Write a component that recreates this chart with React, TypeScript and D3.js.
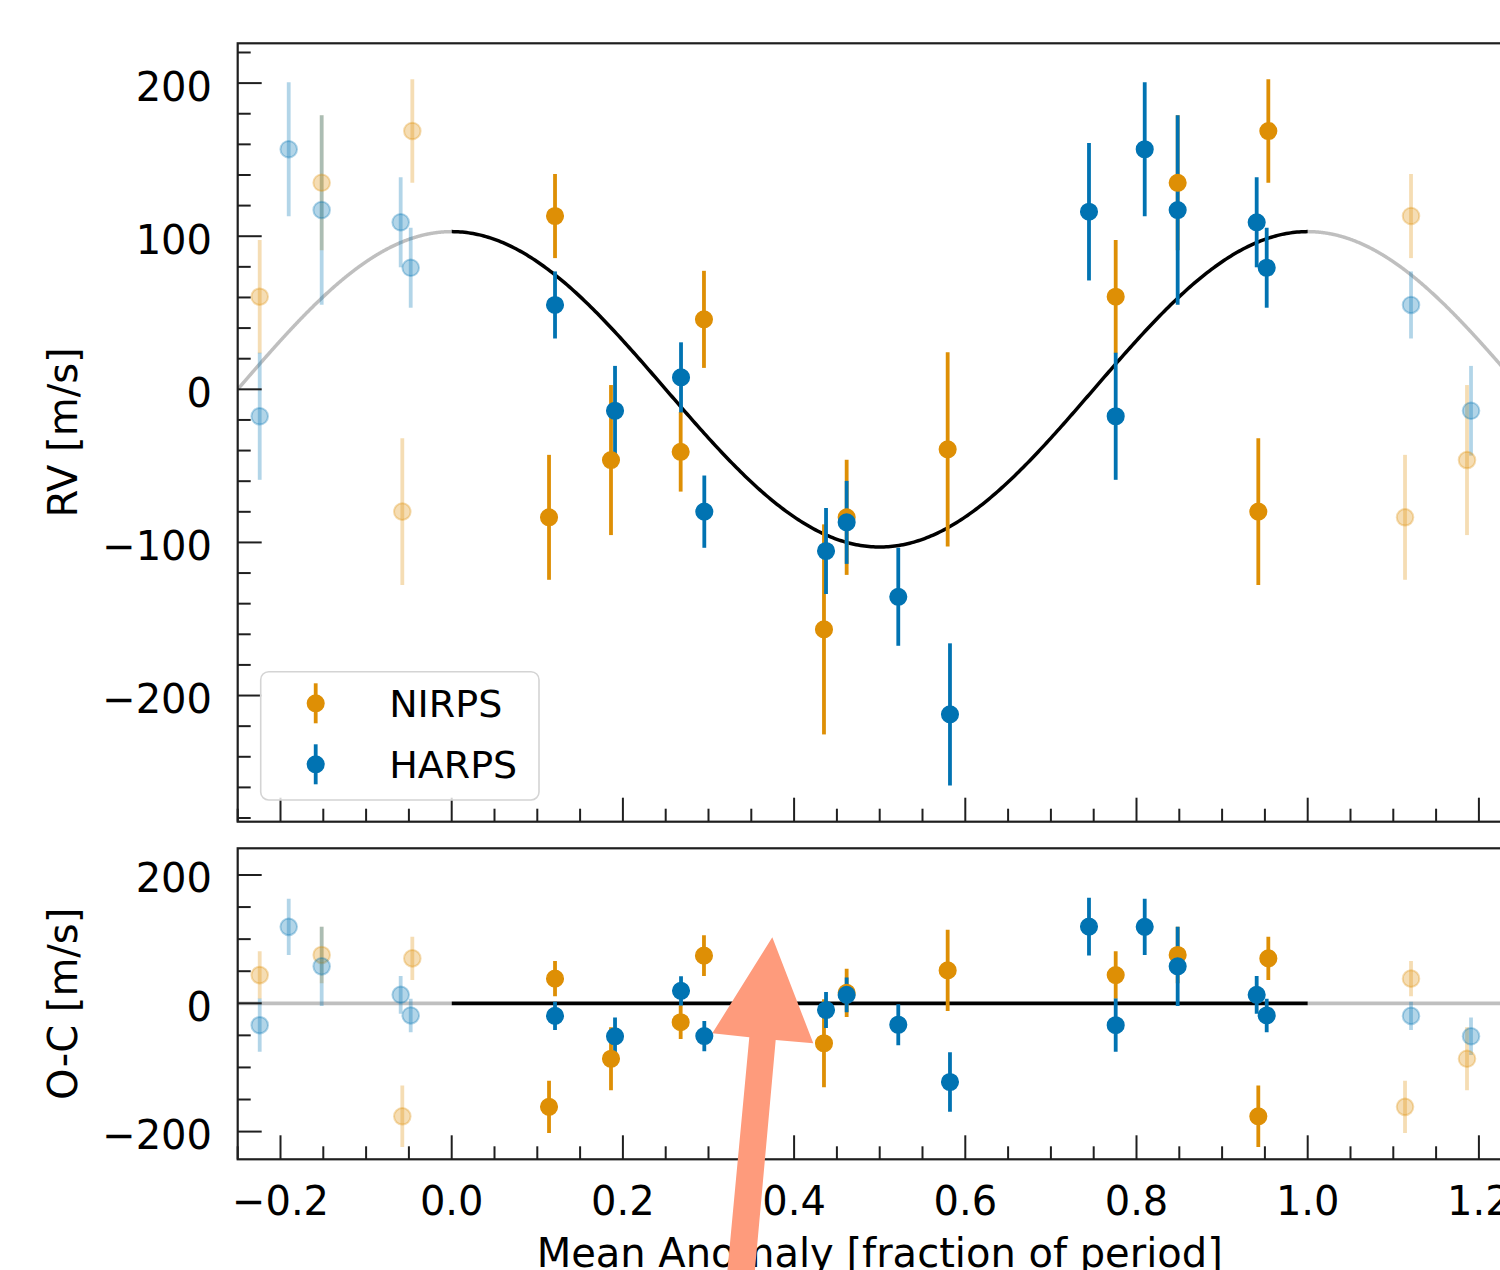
import React from 'react';
import * as d3 from 'd3';

// ---- Data ----
// NIRPS
const PHASE_NIRPS = [0.1207, 0.1137, 0.1861, 0.2675, 0.2947, 0.4349, 0.4614, 0.5794, 0.7757, 0.8481, 0.9540, 0.9423];
const RV_NIRPS = [113.2, -83.6, -46.2, -40.8, 45.7, -156.8, -83.6, -39.2, 60.5, 134.9, 168.7, -79.9];
const ERR_NIRPS = [27.5, 40.8, 49.0, 26.0, 31.7, 68.6, 37.6, 63.4, 37.0, 44.1, 33.8, 47.9];
// HARPS
const PHASE_HARPS = [0.1207, 0.1908, 0.2679, 0.2951, 0.4373, 0.4614, 0.5217, 0.5821, 0.7445, 0.8096, 0.8481, 0.7757, 0.9404, 0.9521];
const RV_HARPS = [55.1, -14.0, 7.8, -79.9, -105.6, -86.9, -135.5, -212.3, 116.0, 156.8, 117.1, -17.6, 109.1, 79.4];
const ERR_HARPS = [21.9, 29.3, 22.9, 23.6, 28.1, 27.1, 32.0, 46.4, 44.9, 43.8, 61.9, 41.5, 29.4, 26.1];

// Keplerian (circular) model semi-amplitude in m/s
const MODEL_K = 103;

const SERIES_NAMES = ['NIRPS', 'HARPS'];

const X_TICKS = [-0.2, 0.0, 0.2, 0.4, 0.6, 0.8, 1.0, 1.2];
const X_TICK_LABELS = ['−0.2', '0.0', '0.2', '0.4', '0.6', '0.8', '1.0', '1.2'];
const RV_TICKS = [200, 100, 0, -100, -200];
const RV_TICK_LABELS = ['200', '100', '0', '−100', '−200'];
const OC_TICKS = [200, 0, -200];
const OC_TICK_LABELS = ['200', '0', '−200'];

// ---- Styles / layout ----
const COLORS = ['#DE8F05', '#0173B2'];
const FONT = '"DejaVu Sans", "Liberation Sans", sans-serif';
const AX = '#1f1f1f';
const LEFT = 237.7;
const RIGHT = 1521.7;
const TOP_Y0 = 43.3, TOP_Y1 = 821.7;
const BOT_Y0 = 848.3, BOT_Y1 = 1159.3;
const MAJ = 24, MIN = 13;
const ARROW = [
  [772.3, 937.3], [813.3, 1043.3], [775.7, 1040], [754.5, 1275],
  [727.0, 1275], [749.3, 1037.3], [712.3, 1033.3],
];

type Pt = { phase: number; v: number; err: number };

function model(p: number) {
  return MODEL_K * Math.cos(2 * Math.PI * p);
}

function build(phases: number[], rvs: number[], errs: number[]) {
  const main: Pt[] = phases.map((p, i) => ({ phase: p, v: rvs[i], err: errs[i] }));
  const faded: Pt[] = [];
  main.forEach((d) => {
    if (d.phase >= 0.75) faded.push({ ...d, phase: d.phase - 1 });
    if (d.phase < 0.25) faded.push({ ...d, phase: d.phase + 1 });
  });
  return { main, faded };
}

export default function App() {
  const x = d3.scaleLinear().domain([-0.25, 1.25]).range([LEFT, RIGHT]);
  const yT = d3.scaleLinear().domain([-282.4, 226]).range([TOP_Y1, TOP_Y0]);
  const yB = d3.scaleLinear().domain([-243.2, 241.6]).range([BOT_Y1, BOT_Y0]);

  const series = [
    build(PHASE_NIRPS, RV_NIRPS, ERR_NIRPS),
    build(PHASE_HARPS, RV_HARPS, ERR_HARPS),
  ];

  const curveLine = d3.line<number>().x((p) => x(p)).y((p) => yT(model(p)));
  const samples = (a: number, b: number) => d3.range(0, 401).map((i) => a + ((b - a) * i) / 400);

  const xMinor = d3.range(-25, 126, 5).map((v) => v / 100).filter((v) => Math.abs(Math.round(v * 5) - v * 5) > 1e-6);
  const rvMinor = d3.range(-280, 221, 20).filter((v) => v % 100 !== 0);
  const ocMinor = d3.range(-200, 241, 50).filter((v) => v % 200 !== 0);

  const renderPoints = (panel: 'top' | 'bot', faded: boolean) => {
    const yS = panel === 'top' ? yT : yB;
    const val = (d: Pt) => (panel === 'top' ? d.v : d.v - model(d.phase));
    const op = faded ? 0.3 : 1;
    const bars = series.map((s, si) => (
      <g key={'b' + si} stroke={COLORS[si]} strokeOpacity={op} strokeWidth={3.8}>
        {(faded ? s.faded : s.main).map((d, i) => (
          <line key={i} x1={x(d.phase)} x2={x(d.phase)} y1={yS(val(d) + d.err)} y2={yS(val(d) - d.err)} />
        ))}
      </g>
    ));
    const marks = series.map((s, si) => (
      <g key={'m' + si} fill={COLORS[si]} fillOpacity={op} stroke={COLORS[si]} strokeOpacity={op} strokeWidth={faded ? 2 : 1.5}>
        {(faded ? s.faded : s.main).map((d, i) => (
          <circle key={i} cx={x(d.phase)} cy={yS(val(d))} r={8.3} />
        ))}
      </g>
    ));
    return (
      <g>
        {bars}
        {marks}
      </g>
    );
  };

  const yAxis = (yS: any, ticks: number[], labels: string[], minor: number[]) => (
    <g>
      {minor.map((v) => (
        <line key={'mn' + v} x1={LEFT} x2={LEFT + MIN} y1={yS(v)} y2={yS(v)} stroke={AX} strokeWidth={2} />
      ))}
      {ticks.map((v, i) => (
        <g key={'mj' + v}>
          <line x1={LEFT} x2={LEFT + MAJ} y1={yS(v)} y2={yS(v)} stroke={AX} strokeWidth={2} />
          <text x={212} y={yS(v) + 17.4} textAnchor="end" fontSize={40} fontFamily={FONT} fill="#000">
            {labels[i]}
          </text>
        </g>
      ))}
    </g>
  );

  const xAxis = (yBottom: number, withLabels: boolean) => (
    <g>
      {xMinor.map((v) => (
        <line key={'xm' + v} x1={x(v)} x2={x(v)} y1={yBottom} y2={yBottom - MIN} stroke={AX} strokeWidth={2} />
      ))}
      {X_TICKS.map((v, i) => (
        <g key={'xM' + v}>
          <line x1={x(v)} x2={x(v)} y1={yBottom} y2={yBottom - MAJ} stroke={AX} strokeWidth={2} />
          {withLabels && (
            <text x={x(v)} y={1215} textAnchor="middle" fontSize={40} fontFamily={FONT} fill="#000">
              {X_TICK_LABELS[i]}
            </text>
          )}
        </g>
      ))}
    </g>
  );

  const legendX = 260.7, legendY = 671.7;

  return (
    <svg
      width={1500}
      height={1270}
      style={{ position: 'absolute', left: 0, top: 0, background: '#fff' }}
    >
      <rect x={0} y={0} width={1500} height={1270} fill="#fff" />
      <defs>
        <clipPath id="clipTop">
          <rect x={LEFT} y={TOP_Y0} width={RIGHT - LEFT} height={TOP_Y1 - TOP_Y0} />
        </clipPath>
        <clipPath id="clipBot">
          <rect x={LEFT} y={BOT_Y0} width={RIGHT - LEFT} height={BOT_Y1 - BOT_Y0} />
        </clipPath>
      </defs>

      {/* Top panel */}
      <g clipPath="url(#clipTop)">
        <path d={curveLine(samples(-0.25, 0)) || ''} fill="none" stroke="#000" strokeOpacity={0.25} strokeWidth={3.5} />
        <path d={curveLine(samples(1, 1.25)) || ''} fill="none" stroke="#000" strokeOpacity={0.25} strokeWidth={3.5} />
        <path d={curveLine(samples(0, 1)) || ''} fill="none" stroke="#000" strokeWidth={3.5} />
        {renderPoints('top', true)}
        {renderPoints('top', false)}
      </g>
      {yAxis(yT, RV_TICKS, RV_TICK_LABELS, rvMinor)}
      {xAxis(TOP_Y1, false)}
      <rect x={LEFT} y={TOP_Y0} width={RIGHT - LEFT} height={TOP_Y1 - TOP_Y0} fill="none" stroke={AX} strokeWidth={2.2} />

      {/* Legend */}
      <g>
        <rect x={legendX} y={legendY} width={278.3} height={128.3} rx={8} fill="#fff" fillOpacity={0.8} stroke="#d4d4d4" strokeWidth={1.6} />
        {SERIES_NAMES.map((name, i) => {
          const cy = legendY + 31.6 + i * 61;
          return (
            <g key={name}>
              <line x1={legendX + 55} x2={legendX + 55} y1={cy - 20} y2={cy + 20} stroke={COLORS[i]} strokeWidth={3.8} />
              <circle cx={legendX + 55} cy={cy} r={8.3} fill={COLORS[i]} stroke={COLORS[i]} strokeWidth={1.5} />
              <text x={legendX + 128.5} y={cy + 13.8} fontSize={38} fontFamily={FONT} fill="#000">
                {name}
              </text>
            </g>
          );
        })}
      </g>

      {/* Bottom panel */}
      <g clipPath="url(#clipBot)">
        <line x1={x(-0.25)} x2={x(0)} y1={yB(0)} y2={yB(0)} stroke="#000" strokeOpacity={0.25} strokeWidth={3.8} />
        <line x1={x(1)} x2={x(1.25)} y1={yB(0)} y2={yB(0)} stroke="#000" strokeOpacity={0.25} strokeWidth={3.8} />
        <line x1={x(0)} x2={x(1)} y1={yB(0)} y2={yB(0)} stroke="#000" strokeWidth={3.8} />
        {renderPoints('bot', true)}
        {renderPoints('bot', false)}
      </g>
      {yAxis(yB, OC_TICKS, OC_TICK_LABELS, ocMinor)}
      {xAxis(BOT_Y1, true)}
      <rect x={LEFT} y={BOT_Y0} width={RIGHT - LEFT} height={BOT_Y1 - BOT_Y0} fill="none" stroke={AX} strokeWidth={2.2} />

      {/* Axis labels */}
      <text
        transform={`translate(76.5, ${(TOP_Y0 + TOP_Y1) / 2}) rotate(-90)`}
        textAnchor="middle"
        fontSize={40}
        fontFamily={FONT}
        fill="#000"
      >
        RV [m/s]
      </text>
      <text
        transform={`translate(76.5, ${(BOT_Y0 + BOT_Y1) / 2}) rotate(-90)`}
        textAnchor="middle"
        fontSize={40}
        fontFamily={FONT}
        fill="#000"
      >
        O-C [m/s]
      </text>
      <text x={x(0.5)} y={1267} textAnchor="middle" fontSize={40} fontFamily={FONT} fill="#000">
        Mean Anomaly [fraction of period]
      </text>

      {/* Annotation arrow overlay */}
      <polygon points={ARROW.map((p) => p.join(',')).join(' ')} fill="#FE9B7C" />
    </svg>
  );
}
